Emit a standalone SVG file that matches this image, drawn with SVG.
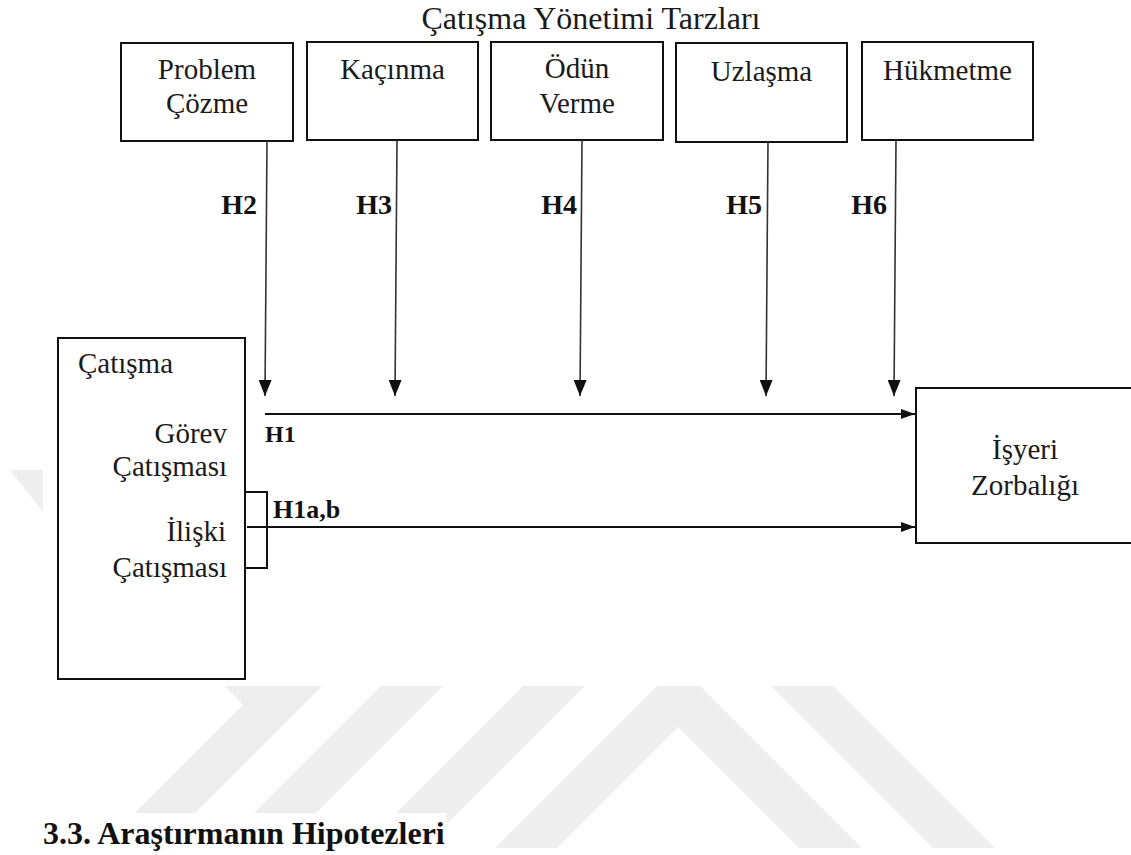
<svg xmlns="http://www.w3.org/2000/svg" width="1131" height="855" viewBox="0 0 1131 855">
  <style>
    .box { fill: #ffffff; stroke: #111111; stroke-width: 2; }
    .lbl { font-family: "Liberation Serif", "Times New Roman", serif; font-size: 29px; fill: #1a1a1a; }
    .c { text-anchor: middle; }
    .e { text-anchor: end; }
    .hb { font-family: "Liberation Serif", "Times New Roman", serif; font-weight: bold; fill: #111111; }
    .vline { stroke: #333333; stroke-width: 1.6; fill: none; }
    .hline { stroke: #111111; stroke-width: 2; fill: none; }
    .wm { fill: #eeeeee; }
  </style>
  <defs>
    <marker id="arrV" markerUnits="userSpaceOnUse" viewBox="0 0 16 13" markerWidth="16" markerHeight="13" refX="16" refY="6.5" orient="auto">
      <path d="M0,0 L16,6.5 L0,13 z" fill="#111111"/>
    </marker>
    <marker id="arrH" markerUnits="userSpaceOnUse" viewBox="0 0 14 10" markerWidth="14" markerHeight="10" refX="14" refY="5" orient="auto">
      <path d="M0,0 L14,5 L0,10 z" fill="#111111"/>
    </marker>
  </defs>

  <rect x="0" y="0" width="1131" height="855" fill="#ffffff"/>

  <!-- faint watermark -->
  <g id="watermark">
    <polygon class="wm" points="10,470 43,470 43,512"/>
    <polygon class="wm" points="225,686 322,686 195,813 135,813 243,705"/>
    <polygon class="wm" points="381,686 443,686 316,813 254,813"/>
    <polygon class="wm" points="523,686 585,686 423,848 361,848"/>
    <polygon class="wm" points="657,686 700,686 862,848 799,848 678,727 557,848 495,848"/>
    <polygon class="wm" points="771,686 833,686 995,848 933,848"/>
    <rect x="0" y="813" width="447" height="42" fill="#ffffff"/>
  </g>

  <text id="title" class="lbl c" x="591" y="29" style="font-size:32px">Çatışma Yönetimi Tarzları</text>

  <g id="node-problem-cozme">
    <rect class="box" x="121" y="43" width="172" height="98"/>
    <text class="lbl c" x="207" y="79">Problem</text>
    <text class="lbl c" x="207" y="113">Çözme</text>
  </g>
  <g id="node-kacinma">
    <rect class="box" x="307" y="42" width="171" height="98"/>
    <text class="lbl c" x="392.5" y="79">Kaçınma</text>
  </g>
  <g id="node-odun-verme">
    <rect class="box" x="491" y="42" width="172" height="98"/>
    <text class="lbl c" x="577" y="78">Ödün</text>
    <text class="lbl c" x="577" y="113">Verme</text>
  </g>
  <g id="node-uzlasma">
    <rect class="box" x="676" y="43" width="171" height="99"/>
    <text class="lbl c" x="761.5" y="81">Uzlaşma</text>
  </g>
  <g id="node-hukmetme">
    <rect class="box" x="862" y="42" width="171" height="98"/>
    <text class="lbl c" x="947.5" y="80">Hükmetme</text>
  </g>

  <g id="node-catisma">
    <rect class="box" x="58" y="338" width="187" height="341"/>
    <text class="lbl" x="78" y="373">Çatışma</text>
    <text class="lbl e" x="227" y="443">Görev</text>
    <text class="lbl e" x="227" y="476">Çatışması</text>
    <text class="lbl e" x="226" y="541">İlişki</text>
    <text class="lbl e" x="227" y="577">Çatışması</text>
  </g>

  <g id="node-isyeri-zorbaligi">
    <rect class="box" x="916" y="388" width="230" height="155"/>
    <text class="lbl c" x="1025" y="459">İşyeri</text>
    <text class="lbl c" x="1025" y="495">Zorbalığı</text>
  </g>

  <g id="connectors">
    <line class="vline" x1="267" y1="141" x2="265" y2="396" marker-end="url(#arrV)"/>
    <line class="vline" x1="397" y1="140" x2="395" y2="396" marker-end="url(#arrV)"/>
    <line class="vline" x1="582" y1="140" x2="580" y2="396" marker-end="url(#arrV)"/>
    <line class="vline" x1="768" y1="142" x2="766" y2="396" marker-end="url(#arrV)"/>
    <line class="vline" x1="896" y1="140" x2="894" y2="396" marker-end="url(#arrV)"/>
    <line class="hline" x1="265" y1="414" x2="915" y2="414" marker-end="url(#arrH)"/>
    <line class="hline" x1="247" y1="527" x2="915" y2="527" marker-end="url(#arrH)"/>
    <polyline class="hline" points="245,492 267,492 267,568 245,568"/>
  </g>

  <g id="labels">
    <text class="hb e" x="257" y="214" style="font-size:28px">H2</text>
    <text class="hb e" x="392" y="214" style="font-size:28px">H3</text>
    <text class="hb e" x="577" y="214" style="font-size:28px">H4</text>
    <text class="hb e" x="762" y="214" style="font-size:28px">H5</text>
    <text class="hb e" x="887" y="214" style="font-size:28px">H6</text>
    <text class="hb" x="265" y="442" style="font-size:24px">H1</text>
    <text class="hb" x="273" y="518" style="font-size:26px">H1a,b</text>
  </g>

  <text id="heading" class="hb" x="43" y="844" style="font-size:32px">3.3. Araştırmanın Hipotezleri</text>
</svg>
